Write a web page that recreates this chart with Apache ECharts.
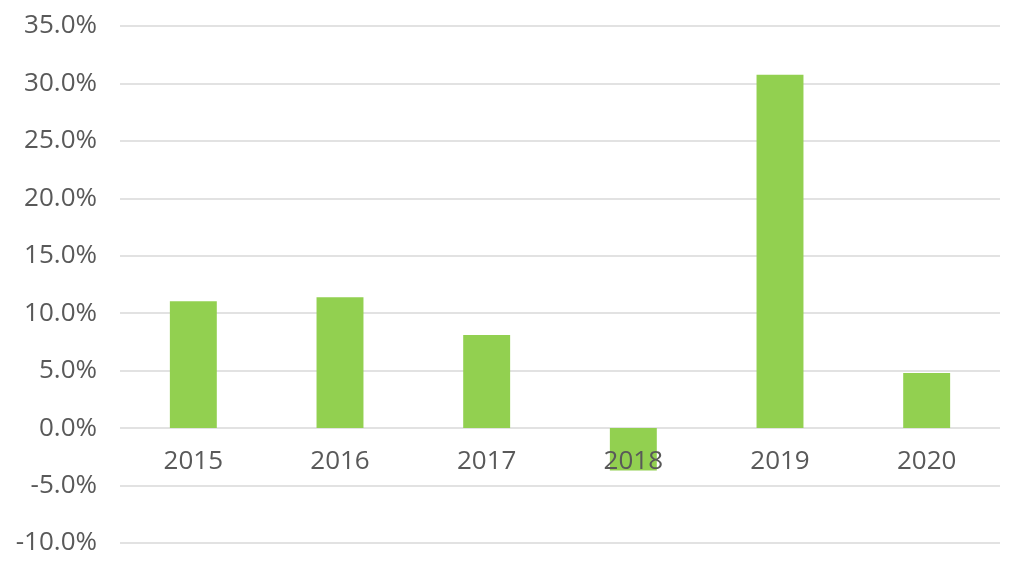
<!DOCTYPE html>
<html>
<head>
<meta charset="utf-8">
<script src="https://cdn.jsdelivr.net/npm/echarts@6/dist/echarts.min.js"></script>
<style>
html,body{margin:0;padding:0;background:#fff;}
#chart{width:1024px;height:569px;}
</style>
</head>
<body>
<div id="chart"></div>
<script>
const categories = ['2015', '2016', '2017', '2018', '2019', '2020'];
const growthValues = [11.05, 11.4, 8.1, -3.7, 30.75, 4.8];
const yMin = -10;
const yMax = 35;
const yStep = 5;

const chart = echarts.init(document.getElementById('chart'));
chart.setOption({
  animation: false,
  backgroundColor: '#ffffff',
  grid: { left: 120, right: 24, top: 26, bottom: 26, containLabel: false, outerBoundsMode: 'none' },
  xAxis: {
    type: 'category',
    data: categories,
    position: 'bottom',
    offset: -115,
    z: 10,
    axisLine: { show: false },
    axisTick: { show: false },
    axisLabel: { color: '#595959', fontSize: 26, fontFamily: 'Open Sans', margin: 21 }
  },
  yAxis: {
    type: 'value',
    min: yMin,
    max: yMax,
    interval: yStep,
    axisLine: { show: false },
    axisTick: { show: false },
    splitLine: { lineStyle: { color: '#d9d9d9', width: 1.5 } },
    axisLabel: {
      color: '#595959', fontSize: 26, fontFamily: 'Open Sans', margin: 23,
      formatter: v => v.toFixed(1) + '%'
    }
  },
  series: [{
    type: 'bar',
    data: growthValues,
    barWidth: '32%',
    z: 2,
    itemStyle: { color: '#92d050' }
  }]
});
</script>
</body>
</html>
